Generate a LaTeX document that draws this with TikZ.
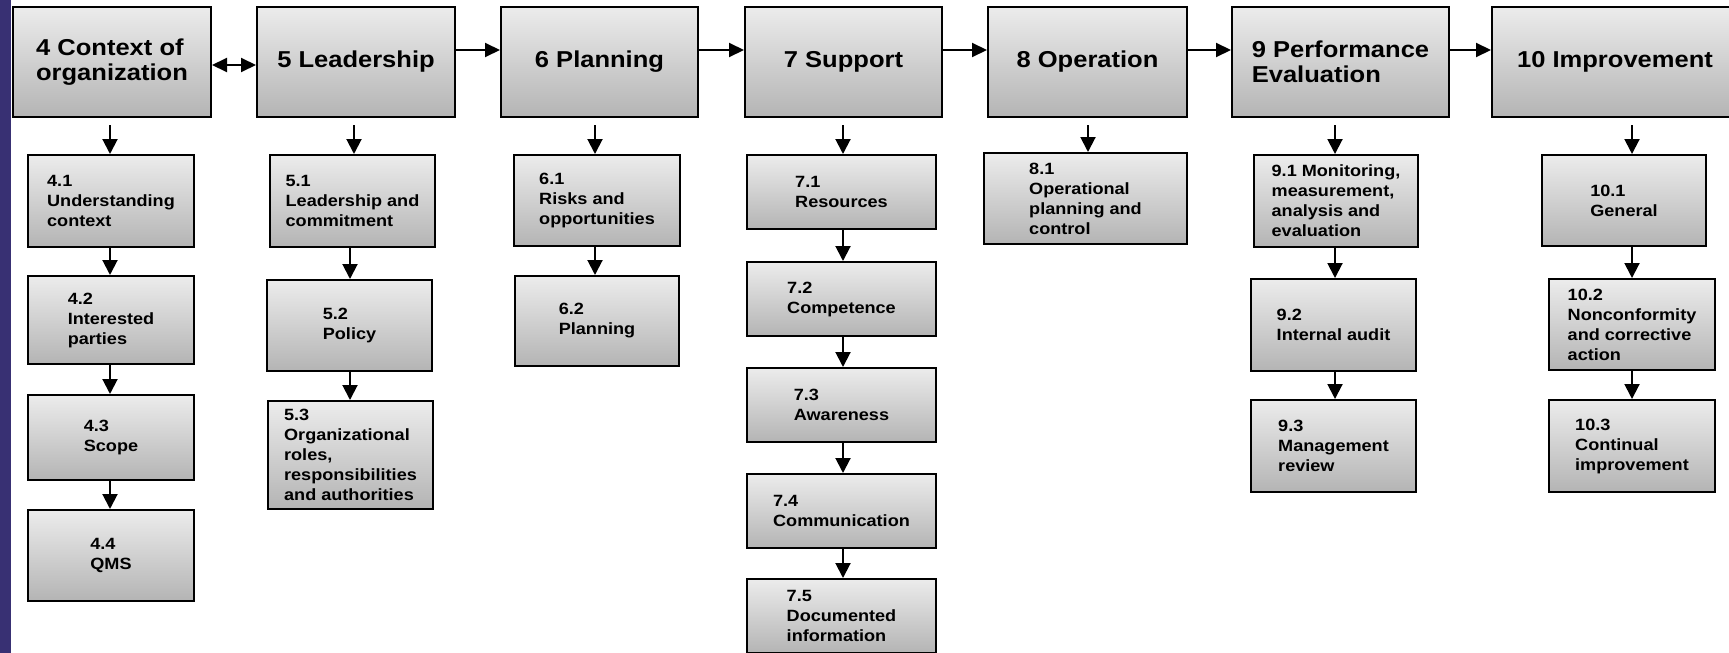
\documentclass[tikz,border=0pt]{standalone}
\usepackage{fontspec}
\setmainfont[FakeStretch=1.11]{Liberation Sans}
\usetikzlibrary{arrows.meta}
\definecolor{sidebar}{RGB}{56,48,115}
\definecolor{boxtop}{RGB}{236,236,236}
\definecolor{boxbottom}{RGB}{180,180,180}
\tikzset{
  clause/.style={draw, line width=2pt, top color=boxtop, bottom color=boxbottom,
    align=left, inner sep=0pt, font=\fontsize{23}{25}\selectfont\bfseries},
  subclause/.style={clause, font=\fontsize{16.3}{20}\selectfont\bfseries},
  flow/.style={line width=2pt, -{Triangle[length=15pt,width=15pt]}},
}

\begin{document}
\begin{tikzpicture}[x=1pt, y=-1pt]
\clip (0,0) rectangle (1729,653);
\fill[sidebar] (0,0) rectangle (11,653);
% Clauses
\foreach \name/\x/\w/\txt in {c4/112/198/{4 Context of\\organization}, c5/356/198/{5 Leadership},
    c6/599.5/197/{6 Planning}, c7/843.5/197/{7 Support}, c8/1087.5/199/{8 Operation},
    c9/1340.5/217/{9 Performance\\Evaluation}, c10/1615/246/{10 Improvement}} {
  \node[clause, minimum width=\w pt, minimum height=110pt] (\name) at (\x,62) {\txt};
}
% Sub-clauses
\foreach \name/\x/\y/\w/\h/\txt in {
    s41/111/201/166/92/{4.1\\Understanding\\context}, s42/111/320/166/88/{4.2\\Interested\\parties},
    s43/111/437.5/166/85/{4.3\\Scope}, s44/111/555.5/166/91/{4.4\\QMS},
    s51/352.5/201/165/92/{5.1\\Leadership and\\commitment}, s52/349.5/325.5/165/91/{5.2\\Policy},
    s53/350.5/455/165/108/{5.3\\Organizational\\roles,\\responsibilities\\and authorities},
    s61/597/200.5/166/91/{6.1\\Risks and\\opportunities}, s62/597/321/164/90/{6.2\\Planning},
    s71/841.5/192/189/74/{7.1\\Resources}, s72/841.5/299/189/74/{7.2\\Competence},
    s73/841.5/405/189/74/{7.3\\Awareness}, s74/841.5/511/189/74/{7.4\\Communication},
    s75/841.5/616/189/74/{7.5\\Documented\\information},
    s81/1085.5/198.5/203/91/{8.1\\Operational\\planning and\\control},
    s91/1336/201/164/92/{9.1 Monitoring,\\measurement,\\analysis and\\evaluation},
    s92/1333.5/325/165/92/{9.2\\Internal audit}, s93/1333.5/446/165/92/{9.3\\Management\\review},
    s101/1624/200.5/164/91/{10.1\\General},
    s102/1632/324.5/166/91/{10.2\\Nonconformity\\and corrective\\action},
    s103/1632/446/166/92/{10.3\\Continual\\improvement}} {
  \node[subclause, minimum width=\w pt, minimum height=\h pt] (\name) at (\x,\y) {\txt};
}
% Top row
\draw[line width=2pt, {Triangle[length=15pt,width=14pt]}-{Triangle[length=15pt,width=14pt]}]
  ([yshift=-3pt]c4.east) -- ([yshift=-3pt]c5.west);
\foreach \a/\b in {c5/c6, c6/c7, c7/c8, c8/c9, c9/c10}
  \draw[flow, -{Triangle[length=15pt,width=14pt]}] ([yshift=12pt]\a.east) -- ([yshift=12pt]\b.west);
% Columns
\foreach \x/\a/\b in {110/c4/s41, 354/c5/s51, 595/c6/s61, 843/c7/s71, 1088/c8/s81, 1335/c9/s91, 1632/c10/s101}
  \draw[flow, shorten <=7pt] (\a.south -| \x,0) -- (\b.north -| \x,0);
\foreach \x/\a/\b in {110/s41/s42, 110/s42/s43, 110/s43/s44, 350/s51/s52, 350/s52/s53, 595/s61/s62,
    843/s71/s72, 843/s72/s73, 843/s73/s74, 843/s74/s75, 1335/s91/s92, 1335/s92/s93,
    1632/s101/s102, 1632/s102/s103}
  \draw[flow] (\a.south -| \x,0) -- (\b.north -| \x,0);
\end{tikzpicture}
\end{document}
